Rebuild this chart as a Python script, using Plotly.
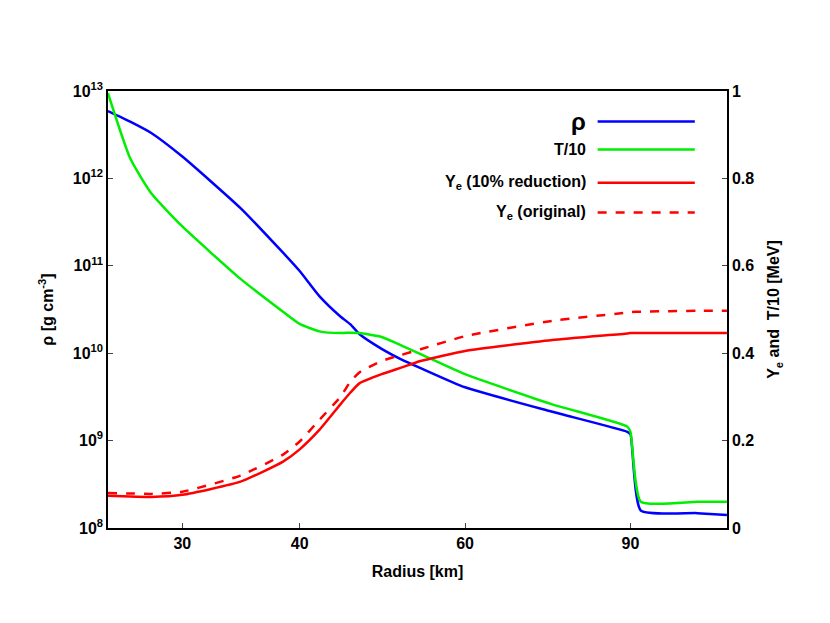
import plotly.graph_objects as go

# radius [km]
radius = [25, 26.4, 27.8, 30, 34.6, 38.4, 40, 42.0, 44.2, 45.3, 46.3, 48.9, 51.3, 53.8,
          60, 74.3, 89.3, 90, 92.3, 106, 114]
# density log10 [g cm^-3]
rho_log = [12.77, 12.65, 12.52, 12.25, 11.66, 11.15, 10.94, 10.65, 10.42, 10.33, 10.22,
           10.05, 9.93, 9.83, 9.61, 9.33, 9.10, 9.07, 8.20, 8.17, 8.15]
temp10 = [0.995, 0.846, 0.766, 0.69, 0.57, 0.495, 0.467, 0.450, 0.446, 0.447, 0.446,
          0.437, 0.418, 0.398, 0.352, 0.283, 0.232, 0.22, 0.06, 0.06, 0.06]
ye_reduced = [0.074, 0.072, 0.071, 0.076, 0.106, 0.152, 0.18, 0.225, 0.283, 0.31, 0.331,
              0.352, 0.367, 0.382, 0.405, 0.430, 0.445, 0.446, 0.446, 0.446, 0.446]
ye_original = [0.08, 0.079, 0.078, 0.083, 0.12, 0.168, 0.198, 0.248, 0.300, 0.335, 0.356,
               0.382, 0.396, 0.409, 0.439, 0.474, 0.493, 0.494, 0.495, 0.497, 0.497]

rho = [10 ** v for v in rho_log]
F = dict(family="Liberation Sans, Arial", size=16, color="black")
SM = 0.5

fig = go.Figure()
fig.add_trace(go.Scatter(x=radius, y=rho, mode="lines",
                         line=dict(color="#0000ff", width=2.5, shape="spline", smoothing=SM)))
fig.add_trace(go.Scatter(x=radius, y=temp10, yaxis="y2", mode="lines",
                         line=dict(color="#00ee00", width=2.5, shape="spline", smoothing=SM)))
fig.add_trace(go.Scatter(x=radius, y=ye_reduced, yaxis="y2", mode="lines",
                         line=dict(color="#ff0000", width=2.5, shape="spline", smoothing=SM)))
fig.add_trace(go.Scatter(x=radius, y=ye_original, yaxis="y2", mode="lines",
                         line=dict(color="#ff0000", width=2.5, dash="dash", shape="spline", smoothing=SM)))

legend = [("ρ", "#0000ff", "solid", 0.93), ("T/10", "#00ee00", "solid", 0.866),
          ("Y<sub>e</sub> (10% reduction)", "#ff0000", "solid", 0.79),
          ("Y<sub>e</sub> (original)", "#ff0000", "dash", 0.722)]
for text, col, dash, yy in legend:
    fig.add_shape(type="line", xref="paper", yref="paper", x0=0.791, x1=0.948, y0=yy, y1=yy,
                  line=dict(color=col, width=2.5, dash=dash))
    fig.add_annotation(xref="paper", yref="paper", x=0.775, y=yy, text="<b>%s</b>" % text,
                       showarrow=False, xanchor="right", yanchor="middle",
                       font=dict(F, size=24 if text == "ρ" else 16))

fig.update_layout(
    width=830, height=623, margin=dict(l=100, r=111, t=83, b=103),
    plot_bgcolor="white", paper_bgcolor="white", showlegend=False, font=F,
    xaxis=dict(type="log", range=[1.398, 2.057], tickvals=[30, 40, 60, 90],
               ticktext=["<b>30</b>", "<b>40</b>", "<b>60</b>", "<b>90</b>"],
               ticks="inside", showgrid=False, showline=True, linecolor="black", linewidth=1.5,
               mirror=True, title=dict(text="<b>Radius [km]</b>", font=F)),
    yaxis=dict(type="log", range=[8, 13], tickvals=[1e8, 1e9, 1e10, 1e11, 1e12, 1e13],
               ticktext=["<b>10<sup>%d</sup></b>" % k for k in range(8, 14)],
               ticks="inside", showgrid=False, showline=True, linecolor="black", linewidth=1.5,
               title=dict(text="<b>ρ [g cm<sup>-3</sup>]</b>", font=F)),
    yaxis2=dict(overlaying="y", side="right", range=[0, 1], tickvals=[0, 0.2, 0.4, 0.6, 0.8, 1],
                ticktext=["<b>0</b>", "<b>0.2</b>", "<b>0.4</b>", "<b>0.6</b>", "<b>0.8</b>", "<b>1</b>"],
                ticks="inside", showgrid=False, showline=True, linecolor="black", linewidth=1.5,
                title=dict(text="<b>Y<sub>e</sub> and  T/10 [MeV]</b>", font=F)),
)
fig.write_html("out.html")
